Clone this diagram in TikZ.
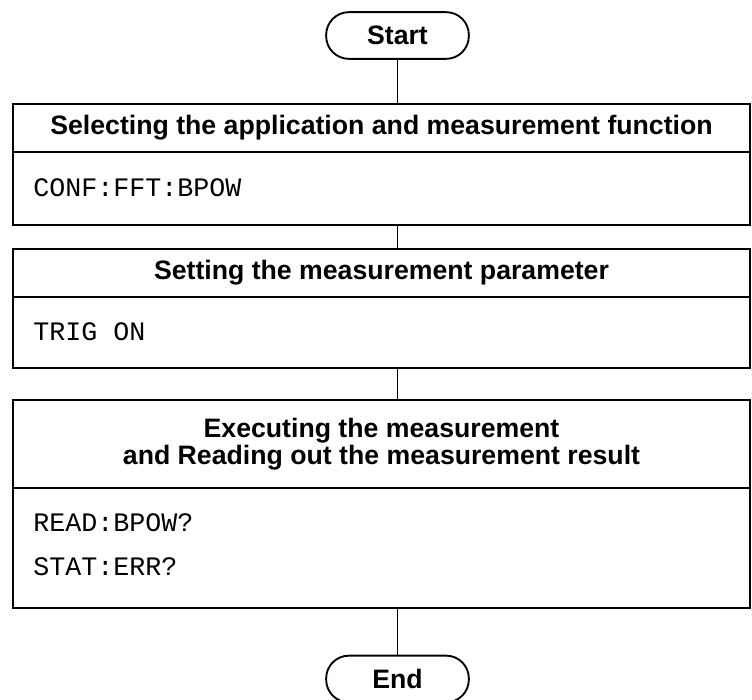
\documentclass[tikz,border=0pt]{standalone}
\usepackage{fontspec}
\setmainfont{Liberation Sans}
\setmonofont{Liberation Mono}
\usepackage{tikz}
\usetikzlibrary{positioning,arrows.meta}

\tikzset{
  terminal/.style={draw, line width=1.4pt, rectangle, rounded corners=17pt,
    minimum width=107pt, minimum height=35pt, inner sep=0pt,
    font=\fontsize{20}{24}\selectfont\bfseries},
  header/.style={draw, line width=1.5pt, rectangle, inner sep=0pt,
    minimum width=552.75pt, align=center,
    font=\fontsize{20}{20.25}\selectfont\bfseries},
  body/.style={draw, line width=1.5pt, rectangle, inner sep=0pt,
    minimum width=552.75pt},
  cmd/.style={anchor=west, inner sep=0pt, font=\fontsize{20}{24}\selectfont\ttfamily},
  link/.style={line width=1.2pt}
}

\begin{document}
\begin{tikzpicture}[x=0.75pt, y=-0.75pt]
  \useasboundingbox (0,0) rectangle (752,699);

  % inicio y fin
  \node[terminal] (start) at (397.5, 35.5) {Start};
  \node[terminal] (end) at (397.5, 679) {End};

  % bloques
  \node[header, minimum height=36pt] (hdrA) at (381.5, 128) {Selecting the application and measurement function};
  \node[body, minimum height=54.75pt] (bodyA) at (381.5, 188.5) {};
  \node[cmd] (conf) at (33, 188) {CONF:FFT:BPOW};

  \node[header, minimum height=36pt] (hdrB) at (381.5, 273) {Setting the measurement parameter};
  \node[body, minimum height=53.25pt] (bodyB) at (381.5, 332.5) {};
  \node[cmd] (trig) at (33, 332) {TRIG ON};

  \node[header, minimum height=66pt] (hdrC) at (381.5, 444) {Executing the measurement\\and Reading out the measurement result};
  \node[body, minimum height=90pt] (bodyC) at (381.5, 548) {};
  \node[cmd] (read) at (33, 523) {READ:BPOW?};
  \node[cmd] (stat) at (33, 567) {STAT:ERR?};

  % conexiones
  \draw[link] (start.south) -- (start.south |- hdrA.north);
  \draw[link] (start.south |- bodyA.south) -- (start.south |- hdrB.north);
  \draw[link] (start.south |- bodyB.south) -- (start.south |- hdrC.north);
  \draw[link] (start.south |- bodyC.south) -- (end.north);
\end{tikzpicture}
\end{document}
